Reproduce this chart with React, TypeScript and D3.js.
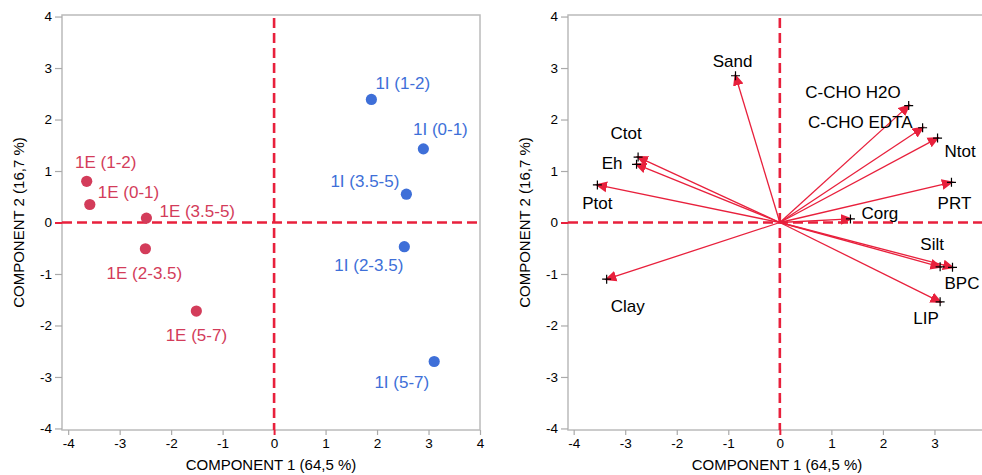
import React, { useEffect, useRef } from 'react';
import * as d3 from 'd3';

// scores (left biplot)
const scoreNames = ['1E (0-1)', '1E (1-2)', '1E (2-3.5)', '1E (3.5-5)', '1E (5-7)', '1I (0-1)', '1I (1-2)', '1I (2-3.5)', '1I (3.5-5)', '1I (5-7)'];
const scoreGroup = ['E', 'E', 'E', 'E', 'E', 'I', 'I', 'I', 'I', 'I'];
const scoreX = [-3.58, -3.64, -2.5, -2.48, -1.51, 2.9, 1.89, 2.53, 2.57, 3.11];
const scoreY = [0.35, 0.8, -0.51, 0.085, -1.72, 1.43, 2.39, -0.47, 0.55, -2.7];

// loadings (right biplot)
const loadingNames = ['Sand', 'C-CHO H2O', 'C-CHO EDTA', 'Ntot', 'PRT', 'Corg', 'Ctot', 'Eh', 'Ptot', 'Clay', 'Silt', 'BPC', 'LIP'];
const loadingX = [-0.86, 2.5, 2.77, 3.06, 3.33, 1.37, -2.75, -2.78, -3.54, -3.36, 3.11, 3.35, 3.11];
const loadingY = [2.85, 2.27, 1.84, 1.64, 0.78, 0.07, 1.27, 1.13, 0.73, -1.1, -0.86, -0.87, -1.54];

const axisTicks = [-4, -3, -2, -1, 0, 1, 2, 3, 4];
const xTitle = 'COMPONENT 1 (64,5 %)';
const yTitle = 'COMPONENT 2 (16,7 %)';

// label placement: [anchor, dx, dy] in pixels from the mark
const scorePlace: Record<string, [string, number, number]> = {
  '1E (0-1)': ['start', 8, -6],
  '1E (1-2)': ['middle', 19, -13],
  '1E (2-3.5)': ['middle', -1, 30],
  '1E (3.5-5)': ['start', 13, -1],
  '1E (5-7)': ['middle', 0, 30],
  '1I (0-1)': ['middle', 17, -14],
  '1I (1-2)': ['start', 4, -10],
  '1I (2-3.5)': ['end', -1, 24],
  '1I (3.5-5)': ['end', -7, -7],
  '1I (5-7)': ['end', -5, 26],
};
const loadingPlace: Record<string, [string, number, number]> = {
  Sand: ['middle', -3, -9],
  'C-CHO H2O': ['end', -8, -8],
  'C-CHO EDTA': ['end', -10, 0],
  Ntot: ['start', 7, 19],
  PRT: ['middle', 3, 27],
  Corg: ['start', 11, 0],
  Ctot: ['middle', -12, -18],
  Eh: ['end', -14, 5],
  Ptot: ['middle', 0, 24],
  Clay: ['middle', 21, 33],
  Silt: ['middle', -8, -17],
  BPC: ['start', -8, 22],
  LIP: ['middle', -14, 22],
};

const RED = '#e8203c';
const PT_RED = '#d33c5a';
const PT_BLUE = '#3e6fd8';
const FONT = '"Liberation Sans", Arial, Helvetica, sans-serif';

function drawPanel(svg: any, x: any, y: any) {
  const [x0, x1] = x.range();
  const [y0, y1] = y.range();
  const g = svg.append('g');

  g.append('rect')
    .attr('x', x0)
    .attr('y', y1)
    .attr('width', x1 - x0)
    .attr('height', y0 - y1)
    .attr('fill', 'none')
    .attr('stroke', '#bbbbbb')
    .attr('stroke-width', 1.5);

  const xa = g
    .append('g')
    .attr('transform', `translate(0, ${y0})`)
    .call(d3.axisBottom(x).tickValues(axisTicks).tickSize(5).tickPadding(3).tickFormat((d: any) => String(d)));
  const ya = g
    .append('g')
    .attr('transform', `translate(${x0}, 0)`)
    .call(d3.axisLeft(y).tickValues(axisTicks).tickSize(7).tickPadding(3).tickFormat((d: any) => String(d)));
  [xa, ya].forEach((a) => {
    a.select('.domain').remove();
    a.attr('font-family', FONT).attr('font-size', 13.5);
    a.selectAll('line').attr('stroke', (d: any) => (d === 0 ? RED : '#aaaaaa')).attr('stroke-width', (d: any) => (d === 0 ? 2 : 1.2));
    a.selectAll('text').attr('fill', '#000');
  });

  g.append('line')
    .attr('x1', x0)
    .attr('x2', x1)
    .attr('y1', y(0))
    .attr('y2', y(0))
    .attr('stroke', RED)
    .attr('stroke-width', 2.6)
    .attr('stroke-dasharray', '10,5');
  g.append('line')
    .attr('x1', x(0))
    .attr('x2', x(0))
    .attr('y1', y1 + 3)
    .attr('y2', y0)
    .attr('stroke', RED)
    .attr('stroke-width', 2.6)
    .attr('stroke-dasharray', '10,5');

  g.append('text')
    .attr('x', (x0 + x1) / 2)
    .attr('y', 470)
    .attr('text-anchor', 'middle')
    .attr('font-family', FONT)
    .attr('font-size', 15)
    .text(xTitle);
  g.append('text')
    .attr('transform', `translate(${x0 - 38}, ${(y0 + y1) / 2}) rotate(-90)`)
    .attr('text-anchor', 'middle')
    .attr('font-family', FONT)
    .attr('font-size', 15)
    .text(yTitle);
  return g;
}

export default function App() {
  const ref = useRef<SVGSVGElement>(null);

  useEffect(() => {
    const svg = d3.select(ref.current);
    svg.selectAll('*').remove();

    svg
      .append('defs')
      .append('marker')
      .attr('id', 'head')
      .attr('viewBox', '0 0 10 10')
      .attr('refX', 8)
      .attr('refY', 5)
      .attr('markerWidth', 12)
      .attr('markerHeight', 12)
      .attr('markerUnits', 'userSpaceOnUse')
      .attr('orient', 'auto')
      .append('path')
      .attr('d', 'M0,0.5L10,5L0,9.5z')
      .attr('fill', RED);

    const yScale = d3.scaleLinear().domain([-4.03, 4.03]).range([430, 15]);
    const xLeft = d3.scaleLinear().domain([-4.12, 4]).range([62, 480]);
    const xRight = d3.scaleLinear().domain([-4.11, 4]).range([568, 986]);

    // left: scores
    const gl = drawPanel(svg, xLeft, yScale);
    const pts = gl
      .selectAll('.pt')
      .data(scoreNames)
      .enter()
      .append('g')
      .attr('transform', (d: string, i: number) => `translate(${xLeft(scoreX[i])}, ${yScale(scoreY[i])})`);
    pts
      .append('circle')
      .attr('r', 5.6)
      .attr('fill', (d: string, i: number) => (scoreGroup[i] === 'E' ? PT_RED : PT_BLUE));
    pts
      .append('text')
      .attr('text-anchor', (d: string) => scorePlace[d][0])
      .attr('x', (d: string) => scorePlace[d][1])
      .attr('y', (d: string) => scorePlace[d][2])
      .attr('font-family', FONT)
      .attr('font-size', 17)
      .attr('fill', (d: string, i: number) => (scoreGroup[i] === 'E' ? PT_RED : PT_BLUE))
      .text((d: string) => d);

    // right: loadings
    const gr = drawPanel(svg, xRight, yScale);
    gr.selectAll('.arrow')
      .data(loadingNames)
      .enter()
      .append('line')
      .attr('x1', xRight(0))
      .attr('y1', yScale(0))
      .attr('x2', (d: string, i: number) => xRight(loadingX[i]))
      .attr('y2', (d: string, i: number) => yScale(loadingY[i]))
      .attr('stroke', RED)
      .attr('stroke-width', 1.3)
      .attr('marker-end', 'url(#head)');
    const lp = gr
      .selectAll('.lp')
      .data(loadingNames)
      .enter()
      .append('g')
      .attr('transform', (d: string, i: number) => `translate(${xRight(loadingX[i])}, ${yScale(loadingY[i])})`);
    lp.append('path').attr('d', 'M-4.5,0H4.5M0,-4.5V4.5').attr('stroke', '#000').attr('stroke-width', 1.2);
    lp.append('text')
      .attr('text-anchor', (d: string) => loadingPlace[d][0])
      .attr('x', (d: string) => loadingPlace[d][1])
      .attr('y', (d: string) => loadingPlace[d][2])
      .attr('font-family', FONT)
      .attr('font-size', 17)
      .attr('fill', '#000')
      .text((d: string) => d);
  }, []);

  return <svg ref={ref} width={982} height={475} style={{ position: 'absolute', left: 0, top: 0, background: '#fff' }} />;
}
